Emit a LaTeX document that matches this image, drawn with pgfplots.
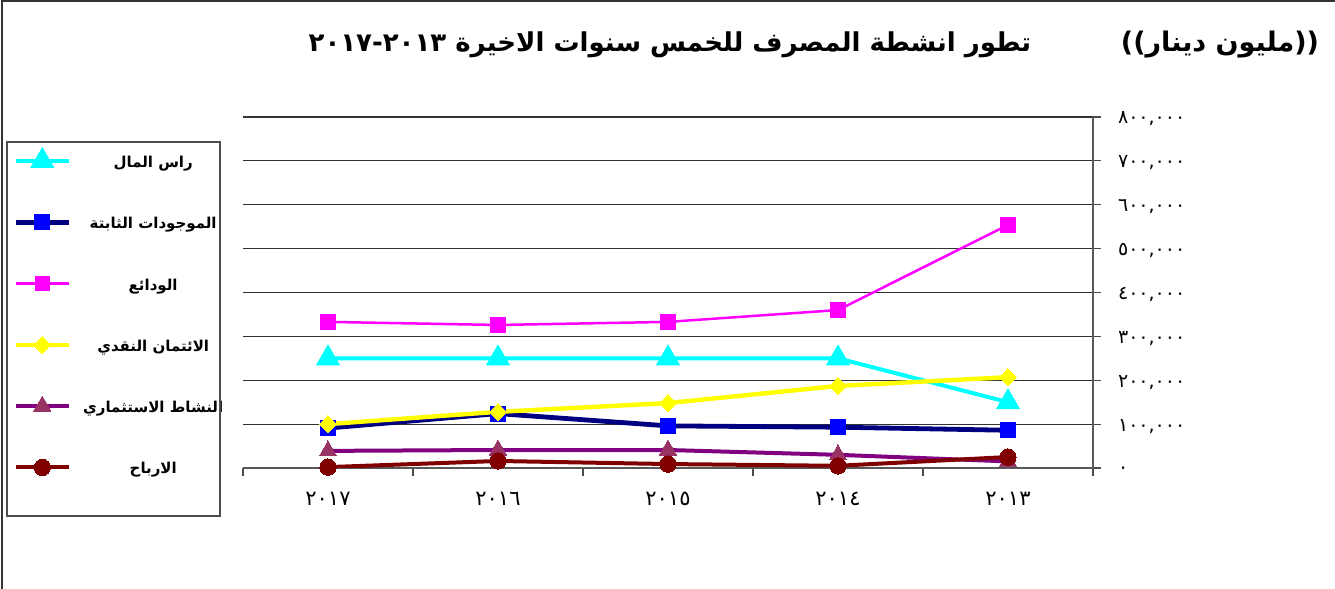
\documentclass[border=0pt]{standalone}
\usepackage{pgfplots}
\pgfplotsset{compat=1.18}
\usepackage{fontspec}
\setmainfont{DejaVu Sans}
\newfontfamily\arabicfont[Script=Arabic]{DejaVu Sans}
\TeXXeTstate=1
\definecolor{capc}{HTML}{00FFFF}
\definecolor{navyc}{HTML}{000080}
\definecolor{bluec}{HTML}{0000FF}
\definecolor{magc}{HTML}{FF00FF}
\definecolor{yelc}{HTML}{FFFF00}
\definecolor{purc}{HTML}{800080}
\definecolor{purm}{HTML}{993366}
\definecolor{redc}{HTML}{800000}
\newcommand{\legtxt}[1]{\makebox[62pt][c]{\rule[-4pt]{0pt}{12pt}\beginR #1\endR}}
\begin{document}
\begin{tikzpicture}
\useasboundingbox (0pt,0pt) rectangle (667.5pt,294.5pt);
\draw[line width=1pt, black!80] (0.75pt,0pt) -- (0.75pt,294pt) -- (667.5pt,294pt);
\begin{axis}[
  at={(121.5pt,60.5pt)}, anchor=south west,
  scale only axis, width=425pt, height=175.5pt,
  xmin=-0.5, xmax=4.5, ymin=0, ymax=800000,
  axis x line*=bottom, axis y line*=right,
  axis line style={black!65, line width=0.8pt},
  xtick={0,1,2,3,4},
  xticklabels={٢٠١٧,٢٠١٦,٢٠١٥,٢٠١٤,٢٠١٣},
  major x tick style={draw=none},
  minor xtick={-0.5,0.5,1.5,2.5,3.5,4.5},
  minor x tick style={black!70, line width=0.6pt},
  minor tick length=4pt,
  tick align=outside,
  major tick length=4pt,
  ytick={0,100000,200000,300000,400000,500000,600000,700000,800000},
  yticklabels={{٠},{١٠٠,٠٠٠},{٢٠٠,٠٠٠},{٣٠٠,٠٠٠},{٤٠٠,٠٠٠},{٥٠٠,٠٠٠},{٦٠٠,٠٠٠},{٧٠٠,٠٠٠},{٨٠٠,٠٠٠}},
  scaled y ticks=false,
  y tick style={black!70, line width=0.6pt},
  ymajorgrids,
  grid style={black!80, line width=0.6pt},
  xticklabel style={font=\arabicfont\fontsize{10.5}{10.5}\selectfont, yshift=-4.5pt},
  yticklabel style={font=\arabicfont\fontsize{9.5}{9.5}\selectfont, anchor=west, xshift=5pt, yshift=-1pt},
  legend style={at={(-0.27765,0.91453)}, anchor=north west, draw=none, fill=none,
     inner xsep=3pt, inner ysep=0pt, row sep=17.15pt, column sep=8pt,
     font=\arabicfont\bfseries\fontsize{7.5}{10}\selectfont},
  legend cell align=center,
  legend image code/.code={\draw[mark repeat=2,mark phase=2] plot coordinates {(0pt,0pt)(13.25pt,0pt)(26.5pt,0pt)};},
]
\addplot[color=capc, line width=2pt, mark=triangle*, mark size=5pt, mark options={solid, fill=capc}]
  coordinates {(0,250000)(1,250000)(2,250000)(3,250000)(4,150000)};
\addlegendentry{\legtxt{راس المال}}
\addplot[color=navyc, line width=2.4pt, mark=square*, mark size=3.75pt, mark options={solid, draw=bluec, fill=bluec, line width=0pt}]
  coordinates {(0,91000)(1,124000)(2,96000)(3,93000)(4,86000)};
\addlegendentry{\legtxt{الموجودات الثابتة}}
\addplot[color=magc, line width=1.25pt, mark=square*, mark size=3.25pt, mark options={solid, fill=magc}]
  coordinates {(0,333000)(1,326000)(2,333000)(3,360000)(4,554000)};
\addlegendentry{\legtxt{الودائع}}
\addplot[color=yelc, line width=2.2pt, mark=square*, mark size=3pt, mark options={solid, fill=yelc, rotate=45, line width=0pt}]
  coordinates {(0,100000)(1,128000)(2,148000)(3,187000)(4,207000)};
\addlegendentry{\legtxt{الائتمان النقدي}}
\addplot[color=purc, line width=2pt, mark=triangle*, mark size=5pt, mark options={solid, draw=purm, fill=purm, line width=0pt}]
  coordinates {(0,39000)(1,41000)(2,41000)(3,30000)(4,15000)};
\addlegendentry{\legtxt{النشاط الاستثماري}}
\addplot[color=redc, line width=2pt, mark=*, mark size=4.1pt, mark options={solid, fill=redc, line width=0pt}]
  coordinates {(0,2000)(1,16000)(2,9000)(3,5000)(4,25000)};
\addlegendentry{\legtxt{الارباح}}
\end{axis}
\draw[black!70, line width=0.75pt] (3.5pt,36.5pt) rectangle (110pt,223.5pt);
\node[font=\arabicfont\bfseries\fontsize{13}{13}\selectfont] at (335pt,272pt)
  {\beginR تطور انشطة المصرف للخمس سنوات الاخيرة \beginL\mbox{٢٠١٧}\mbox{-}\mbox{٢٠١٣}\endL\endR};
\node[font=\arabicfont\bfseries\fontsize{13.5}{13.5}\selectfont] at (610pt,272pt)
  {\mbox{))}\beginR مليون دينار\endR\mbox{((}};
\end{tikzpicture}
\end{document}
